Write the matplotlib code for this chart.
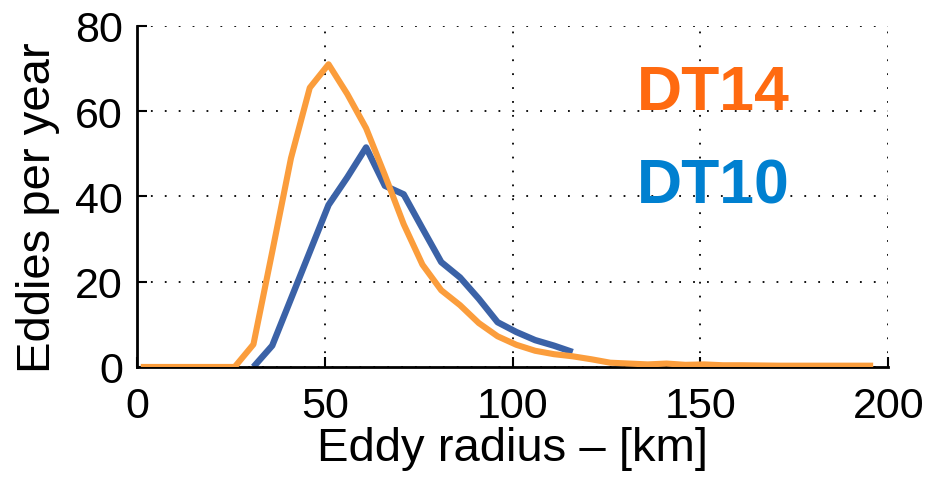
import numpy as np
import matplotlib
matplotlib.use("Agg")
import matplotlib.pyplot as plt

plt.rcParams['font.family'] = ['Liberation Sans', 'DejaVu Sans']

# Eddy radius bins (km) and yearly eddy counts
radius_dt14 = [1, 6, 11, 16, 21, 26, 31, 36, 41, 46, 51, 56, 61, 66, 71, 76, 81,
               86, 91, 96, 101, 106, 111, 116, 121, 126, 131, 136, 141, 146, 151,
               156, 161, 166, 171, 176, 181, 186, 191, 196]
counts_dt14 = [0, 0, 0, 0, 0, 0, 5.3, 27, 49, 65.5, 71, 64, 56, 45, 33.5, 24, 18,
               14.5, 10.3, 7.2, 5.2, 3.8, 3.0, 2.5, 1.8, 1.0, 0.8, 0.6, 0.8, 0.5,
               0.6, 0.4, 0.4, 0.35, 0.3, 0.3, 0.3, 0.3, 0.3, 0.3]

radius_dt10 = [31, 36, 41, 46, 51, 56, 61, 66, 71, 76, 81, 86, 91, 96, 101, 106,
               111, 116]
counts_dt10 = [0, 5, 16, 27, 38, 44.5, 51.5, 42.5, 40.5, 32.5, 24.6, 21, 16,
               10.5, 8.2, 6.3, 5, 3.5]

x_ticks = [0, 50, 100, 150, 200]
y_ticks = [0, 20, 40, 60, 80]

orange = '#FB9D3C'
blue = '#3B62A7'

fig = plt.figure(figsize=(9.32, 4.81), dpi=100)
ax = fig.add_axes([0.147, 0.235, 0.806, 0.709])

ax.plot(radius_dt14, counts_dt14, color=orange, lw=4.4, solid_capstyle='butt',
        solid_joinstyle='round', zorder=3)
ax.plot(radius_dt10, counts_dt10, color=blue, lw=4.6, solid_capstyle='butt',
        solid_joinstyle='round', zorder=2)

ax.set_xlim(0, 200)
ax.set_ylim(0, 80)
ax.set_xticks(x_ticks)
ax.set_yticks(y_ticks)
ax.tick_params(direction='in', length=7, width=1.5, labelsize=31)
ax.tick_params(axis='y', pad=10)
ax.tick_params(axis='x', pad=14)

ax.grid(True, color='black', linestyle=(0, (1, 6.7)), linewidth=1.3)
for side in ('top', 'right'):
    ax.spines[side].set_visible(False)
for side in ('left', 'bottom'):
    ax.spines[side].set_linewidth(2)

ax.set_xlabel('Eddy radius – [km]', fontsize=34, labelpad=0)
ax.set_ylabel('Eddies per year', fontsize=34)
ax.yaxis.set_label_coords(-0.103, 0.47)

ax.text(153.5, 64.5, 'DT14', color='#FF6A10', fontsize=45, fontweight='bold',
        ha='center', va='center')
ax.text(153.5, 42.5, 'DT10', color='#0080D0', fontsize=45, fontweight='bold',
        ha='center', va='center')

fig.savefig('out.png', dpi=100, facecolor='white')
